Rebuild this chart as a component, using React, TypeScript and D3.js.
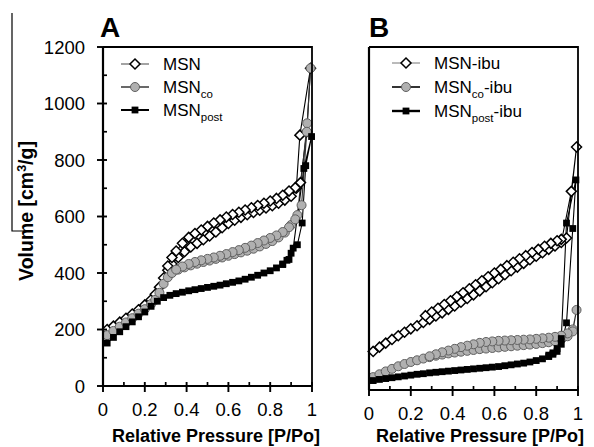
import React from "react";
import * as d3 from "d3";

type Pt = [number, number];

// Panel A (p, volume)
const msnAds: Pt[] = [[0.02,200],[0.05,212],[0.08,226],[0.11,240],[0.14,255],[0.17,270],[0.2,287],[0.23,305],[0.25,325],[0.27,350],[0.29,382],[0.31,410],[0.33,432],[0.36,455],[0.39,475],[0.42,492],[0.45,505],[0.48,518],[0.51,531],[0.54,545],[0.57,560],[0.6,575],[0.63,587],[0.66,597],[0.69,606],[0.72,614],[0.75,622],[0.78,630],[0.81,638],[0.84,647],[0.87,658],[0.9,672],[0.925,700],[0.942,888],[0.993,1125]];
const msnDes: Pt[] = [[0.975,900],[0.945,720],[0.92,702],[0.89,690],[0.86,675],[0.83,664],[0.8,655],[0.77,647],[0.74,639],[0.71,631],[0.68,623],[0.65,615],[0.62,607],[0.59,598],[0.56,588],[0.53,577],[0.5,565],[0.47,552],[0.44,540],[0.41,526],[0.38,505],[0.35,478],[0.33,455],[0.31,425]];
const coAds: Pt[] = [[0.02,180],[0.05,195],[0.08,210],[0.11,225],[0.14,240],[0.17,256],[0.2,272],[0.23,290],[0.25,305],[0.27,330],[0.29,362],[0.31,385],[0.33,400],[0.36,412],[0.39,420],[0.42,427],[0.45,433],[0.48,439],[0.51,444],[0.54,450],[0.57,455],[0.6,461],[0.63,467],[0.66,473],[0.69,479],[0.72,486],[0.75,494],[0.78,503],[0.81,513],[0.84,526],[0.87,543],[0.9,570],[0.93,605],[0.977,930],[0.993,1125]];
const coDes: Pt[] = [[0.975,900],[0.95,640],[0.92,590],[0.89,562],[0.86,545],[0.83,533],[0.8,524],[0.77,515],[0.74,506],[0.71,497],[0.68,489],[0.65,481],[0.62,474],[0.59,467],[0.56,461],[0.53,455],[0.5,450],[0.47,445],[0.44,439],[0.41,432],[0.38,423],[0.35,412]];
const postAds: Pt[] = [[0.02,152],[0.05,172],[0.08,192],[0.11,210],[0.14,227],[0.17,245],[0.2,262],[0.23,282],[0.26,300],[0.29,313],[0.32,321],[0.35,327],[0.38,332],[0.41,337],[0.44,341],[0.47,345],[0.5,349],[0.53,353],[0.56,357],[0.59,362],[0.62,367],[0.65,372],[0.68,378],[0.71,385],[0.74,392],[0.77,400],[0.8,408],[0.83,418],[0.86,430],[0.89,448],[0.91,488],[0.961,770],[0.998,883]];
const postDes: Pt[] = [[0.97,780],[0.953,577],[0.93,500],[0.9,470],[0.88,445],[0.86,432]];

// Panel B
const ibuAds: Pt[] = [[0.02,135],[0.05,150],[0.08,164],[0.11,177],[0.14,190],[0.17,202],[0.2,214],[0.23,225],[0.26,236],[0.29,247],[0.32,259],[0.35,270],[0.38,282],[0.41,294],[0.44,307],[0.47,320],[0.5,333],[0.53,347],[0.56,361],[0.59,375],[0.62,389],[0.65,403],[0.68,417],[0.71,430],[0.74,443],[0.77,456],[0.8,468],[0.83,480],[0.86,492],[0.89,504],[0.92,516],[0.968,695],[0.993,850]];
const ibuDes: Pt[] = [[0.945,532],[0.92,527],[0.9,522],[0.87,513],[0.84,503],[0.81,492],[0.78,481],[0.75,470],[0.72,459],[0.69,447],[0.66,435],[0.63,422],[0.6,409],[0.57,396],[0.54,382],[0.51,368],[0.48,354],[0.45,340],[0.42,326],[0.39,312],[0.36,299],[0.33,286],[0.3,273],[0.27,260]];
const coIbuAds: Pt[] = [[0.02,45],[0.05,55],[0.08,65],[0.11,74],[0.14,83],[0.17,91],[0.2,98],[0.23,104],[0.26,110],[0.29,115],[0.32,120],[0.35,124],[0.38,128],[0.41,131],[0.44,134],[0.47,137],[0.5,140],[0.53,143],[0.56,145],[0.59,147],[0.62,149],[0.65,151],[0.68,153],[0.71,155],[0.74,157],[0.77,159],[0.8,161],[0.83,164],[0.86,167],[0.89,171],[0.92,177],[0.95,188],[0.975,212],[0.993,280]];
const coIbuDes: Pt[] = [[0.975,205],[0.95,198],[0.92,190],[0.89,186],[0.86,183],[0.83,181],[0.8,179],[0.77,177],[0.74,176],[0.71,175],[0.68,174],[0.65,173],[0.62,172],[0.59,170],[0.56,168],[0.53,165],[0.5,160],[0.47,155],[0.44,150],[0.41,144],[0.38,138],[0.35,132],[0.32,125],[0.29,118]];
const postIbuAds: Pt[] = [[0.02,33],[0.05,37],[0.08,40],[0.11,43],[0.14,46],[0.17,49],[0.2,52],[0.23,55],[0.26,57],[0.29,60],[0.32,62],[0.35,64],[0.38,66],[0.41,68],[0.44,70],[0.47,72],[0.5,74],[0.53,76],[0.56,78],[0.59,80],[0.62,82],[0.65,85],[0.68,88],[0.71,91],[0.74,94],[0.77,98],[0.8,103],[0.83,109],[0.86,117],[0.88,125],[0.9,135],[0.92,160],[0.945,235],[0.975,565],[0.99,735]];
const postIbuDes: Pt[] = [[0.945,584],[0.92,180],[0.9,145],[0.88,130],[0.86,122]];

const xTickLabels = ["0", "0.2", "0.4", "0.6", "0.8", "1"];
const yTickValues = [0, 200, 400, 600, 800, 1000, 1200];

const FONT = "'Liberation Sans', Arial, sans-serif";

type Kind = "diamond" | "circle" | "square";

function Marker({ kind, x, y }: { kind: Kind; x: number; y: number }) {
  if (kind === "diamond") {
    const s = 5;
    return <path d={`M${x},${y - s}L${x + s},${y}L${x},${y + s}L${x - s},${y}Z`} fill="#fff" stroke="#000" strokeWidth={1.5} />;
  }
  if (kind === "circle") {
    return <circle cx={x} cy={y} r={4.5} fill="#b0b0b0" stroke="#606060" strokeWidth={1} />;
  }
  return <rect x={x - 3.4} y={y - 3.4} width={6.8} height={6.8} fill="#000" />;
}

interface Series { ads: Pt[]; des: Pt[]; kind: Kind; stroke: string; }

function Panel({ x0, x1, yTop, yBot, series, showY, titleX }: { x0: number; x1: number; yTop: number; yBot: number; series: Series[]; showY: boolean; titleX: number }) {
  const xs = d3.scaleLinear().domain([0, 1]).range([x0, x1]);
  const ys = d3.scaleLinear().domain([0, 1200]).range([yBot, yTop]);
  const line = d3.line<Pt>().x(d => xs(d[0])).y(d => ys(d[1]));
  const majX = d3.range(0, 1.0001, 0.2);
  const minX = d3.range(0.1, 1, 0.2);
  const majY = yTickValues;
  const minY = d3.range(100, 1200, 200);
  return (
    <g>
      {series.map((s, i) => (
        <path key={"l" + i} d={line([...s.ads, ...s.des]) || ""} fill="none" stroke={s.stroke} strokeWidth={1.1} />
      ))}
      {series.map((s, i) => (
        <g key={"m" + i}>
          {[...s.ads, ...s.des].map((p, j) => <Marker key={j} kind={s.kind} x={xs(p[0])} y={ys(p[1])} />)}
        </g>
      ))}
      <path d={`M${x0},${yTop}H${x1}V${yBot}`} fill="none" stroke="#000" strokeWidth={1.8} />
      <line x1={x0} y1={yTop} x2={x0} y2={yBot} stroke="#000" strokeWidth={2.2} />
      <line x1={x0} y1={yBot} x2={x1} y2={yBot} stroke="#000" strokeWidth={2.2} />
      {majX.map((v, i) => (
        <line key={"mx" + i} x1={xs(v)} x2={xs(v)} y1={yBot - 4} y2={yBot + 6} stroke="#000" strokeWidth={1.9} />
      ))}
      {minX.map((v, i) => (
        <line key={"nx" + i} x1={xs(v)} x2={xs(v)} y1={yBot - 4} y2={yBot} stroke="#000" strokeWidth={1.7} />
      ))}
      {majX.map((v, i) => (
        <text key={"tx" + i} x={xs(v)} y={yBot + 30} textAnchor="middle" fontFamily={FONT} fontSize={18.5} fill="#000">{xTickLabels[i]}</text>
      ))}
      {showY && majY.map((v, i) => (
        <line key={"my" + i} x1={x0 - 6} x2={x0 + 4} y1={ys(v)} y2={ys(v)} stroke="#000" strokeWidth={1.9} />
      ))}
      {showY && minY.map((v, i) => (
        <line key={"ny" + i} x1={x0} x2={x0 + 4} y1={ys(v)} y2={ys(v)} stroke="#000" strokeWidth={1.7} />
      ))}
      {showY && majY.map((v, i) => (
        <text key={"ty" + i} x={x0 - 18} y={ys(v) + 6.5} textAnchor="end" fontFamily={FONT} fontSize={18.5} fill="#000">{v}</text>
      ))}
      <text x={titleX} y={441.5} textAnchor="middle" fontFamily={FONT} fontSize={18} fontWeight="bold" fill="#000">Relative Pressure [P/Po]</text>
    </g>
  );
}

function LegendRow({ x, y, kind, stroke, sw, main, sub, tail }: { x: number; y: number; kind: Kind; stroke: string; sw: number; main: string; sub?: string; tail?: string }) {
  return (
    <g>
      <line x1={x} x2={x + 28} y1={y} y2={y} stroke={stroke} strokeWidth={sw} />
      <Marker kind={kind} x={x + 14} y={y} />
      <text x={x + 42} y={y + 6} fontFamily={FONT} fontSize={17} fill="#000">
        {main}
        {sub && <tspan fontSize={11.5} dy={5}>{sub}</tspan>}
        {tail && <tspan dy={sub ? -5 : 0}>{tail}</tspan>}
      </text>
    </g>
  );
}

export default function App() {
  const seriesA: Series[] = [
    { ads: msnAds, des: msnDes, kind: "diamond", stroke: "#000" },
    { ads: coAds, des: coDes, kind: "circle", stroke: "#333" },
    { ads: postAds, des: postDes, kind: "square", stroke: "#000" },
  ];
  const seriesB: Series[] = [
    { ads: ibuAds, des: ibuDes, kind: "diamond", stroke: "#000" },
    { ads: coIbuAds, des: coIbuDes, kind: "circle", stroke: "#333" },
    { ads: postIbuAds, des: postIbuDes, kind: "square", stroke: "#000" },
  ];
  return (
    <svg width={594} height={447} style={{ position: "absolute", left: 0, top: 0, background: "#fff" }}>
      <rect width={594} height={447} fill="#fff" />
      <path d="M12,13V231H32" fill="none" stroke="#000" strokeWidth={1.2} />
      <Panel x0={103} x1={312} yTop={47} yBot={386} series={seriesA} showY={true} titleX={216} />
      <Panel x0={369} x1={578} yTop={47} yBot={390} series={seriesB} showY={false} titleX={480} />
      <text x={100} y={37} fontFamily={FONT} fontSize={28} fontWeight="bold" fill="#000">A</text>
      <text x={369} y={37} fontFamily={FONT} fontSize={28} fontWeight="bold" fill="#000">B</text>
      <text transform="translate(33,211) rotate(-90)" textAnchor="middle" fontFamily={FONT} fontSize={19.5} fontWeight="bold" fill="#000">
        Volume  [cm<tspan fontSize={12.5} dy={-7}>3</tspan><tspan dy={7}>/g]</tspan>
      </text>
      <LegendRow x={121} y={64} kind="diamond" stroke="#666" sw={1.2} main="MSN" />
      <LegendRow x={121} y={87} kind="circle" stroke="#444" sw={1.6} main="MSN" sub="co" />
      <LegendRow x={121} y={110} kind="square" stroke="#000" sw={2} main="MSN" sub="post" />
      <LegendRow x={392} y={63} kind="diamond" stroke="#777" sw={1} main="MSN" tail="-ibu" />
      <LegendRow x={392} y={87} kind="circle" stroke="#333" sw={2} main="MSN" sub="co" tail="-ibu" />
      <LegendRow x={392} y={111} kind="square" stroke="#000" sw={2.4} main="MSN" sub="post" tail="-ibu" />
    </svg>
  );
}
